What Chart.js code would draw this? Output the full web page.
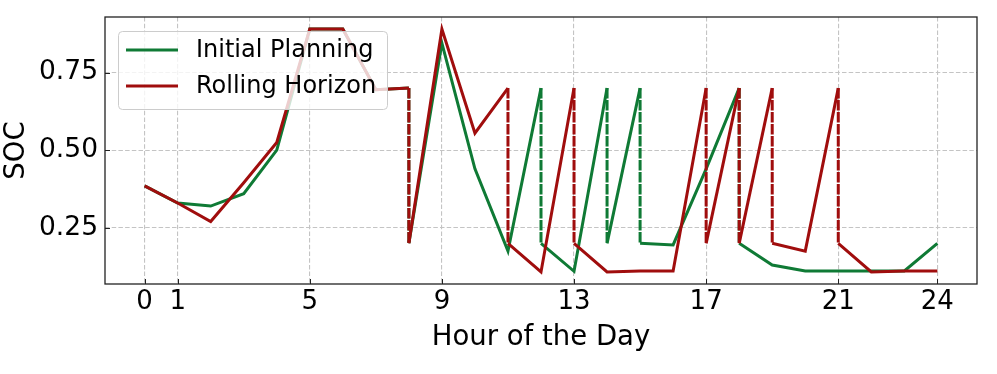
<!DOCTYPE html>
<html>
<head>
<meta charset="utf-8">
<script src="https://cdn.jsdelivr.net/npm/chart.js@4/dist/chart.umd.min.js"></script>
<style>
  html, body { margin: 0; padding: 0; background: #fff; }
  #wrap { width: 997px; height: 374px; }
</style>
</head>
<body>
<div id="wrap"><canvas id="socChart" width="997" height="374"></canvas></div>
<script>
// hours of the day
const hours = [0, 1, 2, 3, 4, 5, 6, 7, 8, 9, 10, 11, 12, 13, 14, 15, 16, 17, 18, 19, 20, 21, 22, 23, 24];

// SOC at each hour (value reached before any reset)
const initialPlanning = [0.385, 0.33, 0.32, 0.36, 0.50, 0.89, 0.89, 0.695, 0.70, 0.845, 0.44, 0.175, 0.70,
                         0.11, 0.70, 0.70, 0.195, 0.44, 0.70, 0.13, 0.111, 0.111, 0.111, 0.111, 0.20];
const rollingHorizon = [0.385, 0.33, 0.27, 0.395, 0.525, 0.89, 0.89, 0.695, 0.70, 0.89, 0.555, 0.70, 0.108,
                        0.70, 0.108, 0.111, 0.111, 0.70, 0.70, 0.70, 0.175, 0.70, 0.108, 0.111, 0.111];

// hours where the SOC jumps back down to the reset level
const initialResets = [8, 12, 14, 15, 18];
const rollingResets = [8, 11, 13, 17, 18, 19, 21];
const resetLevel = 0.20;

const xTicks = [0, 1, 5, 9, 13, 17, 21, 24];
const yTicks = [0.25, 0.50, 0.75];

const FONT = "'DejaVu Sans', sans-serif";
const GREEN = '#0f7a35';
const RED = '#a00d0d';

function buildPoints(values, resets) {
    const pts = [];
    hours.forEach((h, i) => {
        pts.push({ x: h, y: values[i] });
        if (resets.includes(h)) pts.push({ x: h, y: resetLevel });
    });
    return pts;
}

// vertical jumps are drawn dashed
const jumpDash = ctx => Math.abs(ctx.p0.x - ctx.p1.x) < 0.5 ? [8, 4] : [];

// frame, inward ticks and legend box drawn on top of the lines
const framePlugin = {
    id: 'framePlugin',
    afterDatasetsDraw(chart) {
        const { ctx, chartArea: a, scales } = chart;
        ctx.save();
        ctx.strokeStyle = '#222';
        ctx.lineWidth = 1;
        ctx.setLineDash([]);
        ctx.beginPath();
        xTicks.forEach(v => {
            const px = Math.round(scales.x.getPixelForValue(v)) + 0.5;
            ctx.moveTo(px, a.bottom);
            ctx.lineTo(px, a.bottom - 5);
        });
        yTicks.forEach(v => {
            const py = Math.round(scales.y.getPixelForValue(v)) + 0.5;
            ctx.moveTo(a.left, py);
            ctx.lineTo(a.left + 5, py);
        });
        ctx.stroke();

        // legend
        const bx = 118, by = 31, bw = 269, bh = 78;
        ctx.beginPath();
        ctx.roundRect(bx + 0.5, by + 0.5, bw, bh, 4);
        ctx.fillStyle = 'rgba(255,255,255,0.8)';
        ctx.fill();
        ctx.strokeStyle = '#cccccc';
        ctx.lineWidth = 1;
        ctx.stroke();
        ctx.font = '24px ' + FONT;
        ctx.textBaseline = 'middle';
        ctx.fillStyle = '#000';
        chart.data.datasets.forEach((ds, i) => {
            const ly = by + 19 + i * 36;
            ctx.beginPath();
            ctx.strokeStyle = ds.borderColor;
            ctx.lineWidth = 3;
            ctx.moveTo(bx + 8, ly);
            ctx.lineTo(bx + 60, ly);
            ctx.stroke();
            ctx.fillText(ds.label, bx + 78, ly + 1);
        });

        ctx.strokeStyle = '#222';
        ctx.lineWidth = 1.3;
        ctx.strokeRect(a.left, a.top, a.right - a.left, a.bottom - a.top);
        ctx.restore();
    }
};

new Chart(document.getElementById('socChart'), {
    type: 'line',
    data: {
        datasets: [{
            label: 'Initial Planning',
            data: buildPoints(initialPlanning, initialResets),
            borderColor: GREEN,
            borderWidth: 3,
            pointRadius: 0,
            tension: 0,
            order: 1,
            segment: { borderDash: jumpDash }
        }, {
            label: 'Rolling Horizon',
            data: buildPoints(rollingHorizon, rollingResets),
            borderColor: RED,
            borderWidth: 3,
            pointRadius: 0,
            tension: 0,
            order: 0,
            segment: { borderDash: jumpDash }
        }]
    },
    options: {
        responsive: false,
        animation: false,
        layout: { padding: { left: 0, right: 20, top: 17, bottom: 0 } },
        plugins: {
            legend: { display: false },
            tooltip: { enabled: false }
        },
        scales: {
            x: {
                type: 'linear',
                min: -1.2,
                max: 25.2,
                afterBuildTicks: scale => { scale.ticks = xTicks.map(v => ({ value: v })); },
                afterFit: scale => {
                    scale.height = 90;
                    scale.paddingLeft = 0;
                    scale.paddingRight = 0;
                },
                ticks: {
                    color: '#000',
                    font: { family: FONT, size: 26 },
                    padding: 3,
                    maxRotation: 0,
                    callback: v => String(v)
                },
                grid: { color: '#c4c4c4', lineWidth: 1.1, drawTicks: false },
                border: { display: false, dash: [4.5, 2.2] },
                title: {
                    display: true,
                    text: 'Hour of the Day',
                    color: '#000',
                    font: { family: FONT, size: 27.5 },
                    padding: { top: 0, bottom: 20 }
                }
            },
            y: {
                min: 0.069,
                max: 0.929,
                afterBuildTicks: scale => { scale.ticks = yTicks.map(v => ({ value: v })); },
                afterFit: scale => {
                    scale.width = 105;
                    scale.paddingTop = 0;
                    scale.paddingBottom = 0;
                },
                ticks: {
                    color: '#000',
                    font: { family: FONT, size: 26.5 },
                    padding: 7,
                    callback: v => v.toFixed(2)
                },
                grid: { color: '#c4c4c4', lineWidth: 1.1, drawTicks: false },
                border: { display: false, dash: [4.5, 2.2] },
                title: {
                    display: true,
                    text: 'SOC',
                    color: '#000',
                    font: { family: FONT, size: 27.5 },
                    padding: { top: 0, bottom: 0 }
                }
            }
        }
    },
    plugins: [framePlugin]
});
</script>
</body>
</html>
